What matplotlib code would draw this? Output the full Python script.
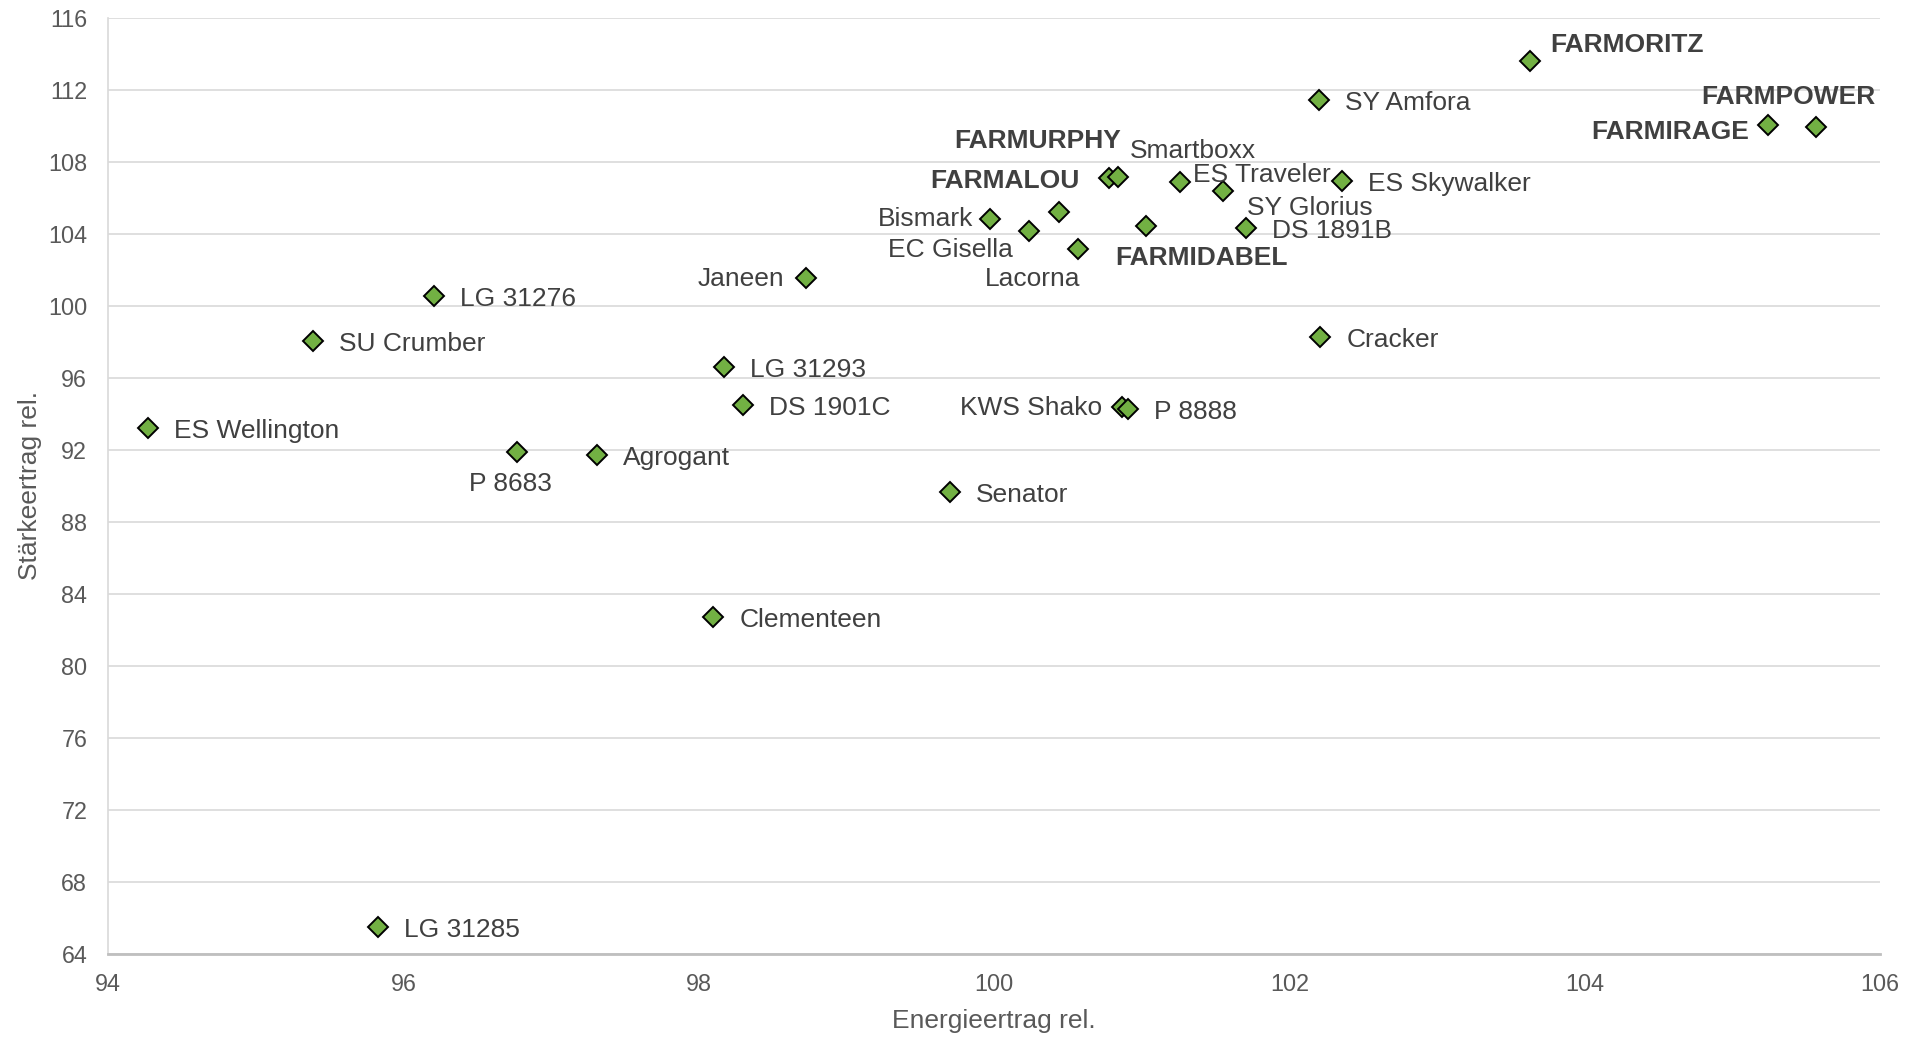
import matplotlib
matplotlib.use("Agg")
import matplotlib.pyplot as plt

# Sorten: Energieertrag rel. (x) / Stärkeertrag rel. (y)
names = [
    "FARMORITZ", "SY Amfora", "FARMPOWER", "FARMIRAGE", "ES Skywalker",
    "FARMALOU", "FARMURPHY", "Smartboxx", "ES Traveler", "SY Glorius",
    "DS 1891B", "FARMIDABEL", "Bismark", "EC Gisella", "Lacorna",
    "Janeen", "LG 31276", "SU Crumber", "Cracker", "LG 31293",
    "DS 1901C", "KWS Shako", "P 8888", "ES Wellington", "P 8683",
    "Agrogant", "Senator", "Clementeen", "LG 31285",
]
energie = [
    103.63, 102.20, 105.57, 105.24, 102.36,
    100.78, 100.84, 100.44, 101.26, 101.55,
    101.71, 101.03, 99.97, 100.24, 100.57,
    98.73, 96.21, 95.39, 102.21, 98.17,
    98.30, 100.87, 100.91, 94.27, 96.77,
    97.31, 99.70, 98.10, 95.83,
]
staerke = [
    113.59, 111.47, 109.94, 110.04, 106.96,
    107.11, 107.14, 105.21, 106.87, 106.41,
    104.33, 104.42, 104.81, 104.19, 103.18,
    101.56, 100.57, 98.07, 98.27, 96.62,
    94.52, 94.39, 94.25, 93.24, 91.87,
    91.72, 89.68, 82.71, 65.49,
]
bold_names = {"FARMORITZ", "FARMPOWER", "FARMIRAGE", "FARMALOU", "FARMURPHY", "FARMIDABEL"}

# label placement: (dx px, dy px downwards, horizontal alignment)
label_pos = {
    "FARMORITZ": (20, -18, "left"),
    "FARMPOWER": (-28, -32, "center"),
    "FARMIRAGE": (-19, 5, "right"),
    "FARMALOU": (-30, 1, "right"),
    "FARMURPHY": (3, -38, "right"),
    "Smartboxx": (71, -63, "left"),
    "ES Traveler": (13, -9, "left"),
    "SY Glorius": (24, 15, "left"),
    "FARMIDABEL": (-31, 30, "left"),
    "Bismark": (-16, -2, "right"),
    "EC Gisella": (-17, 17, "right"),
    "Lacorna": (2, 28, "right"),
    "Janeen": (-22, -1, "right"),
    "KWS Shako": (-20, -1, "right"),
    "P 8683": (-7, 30, "center"),
}

fig = plt.figure(figsize=(19.23, 10.38), dpi=100)
ax = fig.add_axes([0.0562, 0.0809, 0.9214, 0.9018])

ax.plot(energie, staerke, linestyle="none", marker="D", markersize=10,
        markerfacecolor="#72B043", markeredgecolor="black", markeredgewidth=1.4,
        zorder=3)

for name, x, y in zip(names, energie, staerke):
    dx, dy, ha = label_pos.get(name, (26, 1, "left"))
    ax.annotate(name, (x, y), xytext=(dx, -dy - 2), textcoords="offset pixels",
                ha=ha, va="center", fontsize=19, color="#404040",
                fontweight="bold" if name in bold_names else "normal",
                family="Liberation Sans", zorder=4)

ax.set_xlim(94, 106)
ax.set_ylim(64, 116)
ax.set_xticks(range(94, 107, 2))
ax.set_yticks(range(64, 117, 4))
ax.grid(True, axis="y", color="#D9D9D9", linewidth=1.2)
ax.set_axisbelow(True)
for side in ("top", "right"):
    ax.spines[side].set_visible(False)
ax.spines["left"].set_color("#D9D9D9")
ax.spines["left"].set_linewidth(1.2)
ax.spines["bottom"].set_color("#BFBFBF")
ax.spines["bottom"].set_linewidth(2)
ax.tick_params(length=0, labelsize=16.8, labelcolor="#595959")
ax.tick_params(axis="x", pad=14)
ax.tick_params(axis="y", pad=15)
for lbl in ax.get_xticklabels() + ax.get_yticklabels():
    lbl.set_family("Liberation Sans")

ax.set_xlabel("Energieertrag rel.", fontsize=19, color="#595959",
              family="Liberation Sans", labelpad=9)
ax.set_ylabel("Stärkeertrag rel.", fontsize=19, color="#595959",
              family="Liberation Sans", labelpad=4)

fig.savefig("out.png", dpi=100)
